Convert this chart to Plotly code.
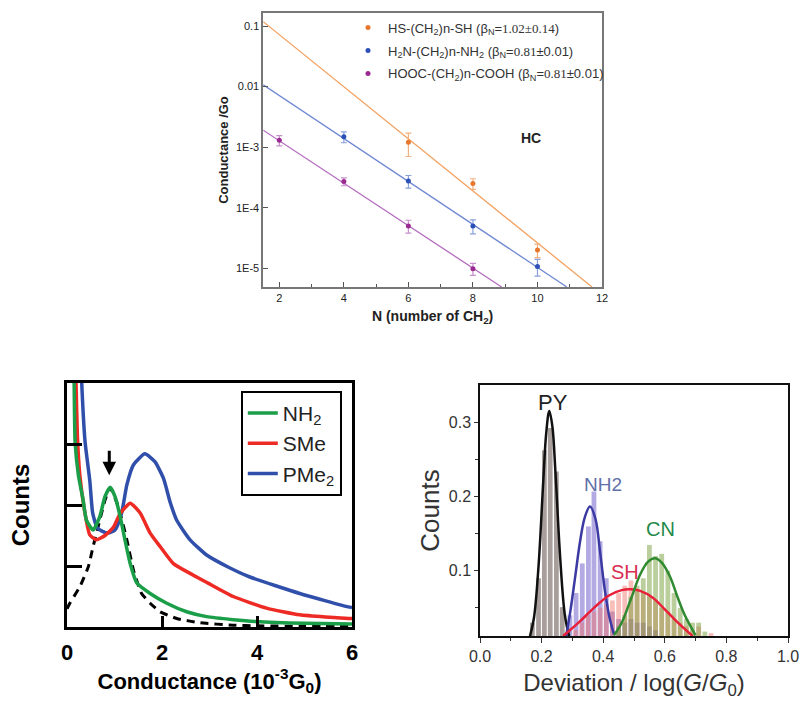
import plotly.graph_objects as go

# ---------------- top panel: conductance vs N ----------------
N_hs = [6, 8, 10]
G_hs = [1.2e-3, 2.5e-4, 2.0e-5]
E_hs = [5e-4, 5e-5, 5e-6]
N_hn = [4, 6, 8, 10]
G_hn = [1.48e-3, 2.75e-4, 5.0e-5, 1.07e-5]
E_hn = [3e-4, 6.5e-5, 1.3e-5, 3.3e-6]
N_hooc = [2, 4, 6, 8]
G_hooc = [1.3e-3, 2.7e-4, 5.0e-5, 9.8e-6]
E_hooc = [2.5e-4, 4e-5, 1.2e-5, 2.2e-6]
fit_hs_x = [1.5, 11.69]
fit_hs_y = [0.118, 4.9e-6]
fit_hn_x = [1.5, 10.91]
fit_hn_y = [0.0107, 4.9e-6]
fit_hooc_x = [1.5, 8.89]
fit_hooc_y = [0.0019, 4.9e-6]
top_ytick_vals = [1e-5, 1e-4, 1e-3, 1e-2, 1e-1]
top_ytick_text = ["1E-5", "1E-4", "1E-3", "0.01", "0.1"]
top_xtick_vals = [2, 4, 6, 8, 10, 12]

# ---------------- bottom-left panel: conductance histograms ----------------
nh2_x = [0.13, 0.15, 0.17, 0.24, 0.34, 0.41, 0.55, 0.69, 0.80, 0.91, 1.01, 1.12, 1.22, 1.33,
         1.47, 1.75, 2.1, 2.52, 2.94, 3.5, 3.96, 5.0, 6.0]
nh2_y = [4.5, 4.0, 3.04, 2.49, 2.08, 1.75, 1.59, 1.81, 2.14, 2.29, 2.14, 1.81, 1.43, 1.04,
         0.72, 0.55, 0.39, 0.25, 0.17, 0.12, 0.09, 0.06, 0.05]
sme_x = [0.17, 0.19, 0.22, 0.27, 0.38, 0.48, 0.62, 0.80, 0.98, 1.12, 1.33, 1.54, 1.75, 1.96,
         2.24, 2.66, 2.97, 3.5, 4.2, 4.9, 5.92, 6.0]
sme_y = [4.5, 4.0, 3.1, 2.49, 1.86, 1.51, 1.43, 1.5, 1.64, 1.86, 2.03, 1.87, 1.54, 1.32,
         1.04, 0.85, 0.72, 0.5, 0.31, 0.2, 0.14, 0.14]
pme_x = [0.29, 0.31, 0.38, 0.48, 0.54, 0.64, 0.84, 1.01, 1.15, 1.26, 1.4, 1.64, 1.85, 2.03,
         2.17, 2.31, 2.59, 2.94, 3.4, 3.85, 4.9, 5.92, 6.0]
pme_y = [4.5, 4.0, 3.04, 2.4, 1.87, 1.62, 1.54, 1.59, 1.87, 2.33, 2.66, 2.84, 2.71, 2.44,
         2.05, 1.75, 1.43, 1.18, 0.98, 0.82, 0.55, 0.33, 0.32]
dash_x = [0.0, 0.06, 0.27, 0.45, 0.55, 0.69, 0.80, 0.91, 1.08, 1.26, 1.4, 1.57, 1.75, 1.96,
          2.31, 2.8, 3.5, 4.0, 5.0, 6.0]
dash_y = [0.3, 0.39, 0.66, 0.99, 1.32, 1.75, 2.08, 2.28, 1.97, 1.43, 0.93, 0.55, 0.39, 0.25,
          0.14, 0.07, 0.03, 0.02, 0.01, 0.01]
bl_xtick_vals = [0, 2, 4, 6]

# ---------------- bottom-right panel: deviation histograms ----------------
py_bx = [0.17, 0.19, 0.209, 0.228, 0.248, 0.267, 0.286]
py_by = [0.03, 0.09, 0.263, 0.293, 0.234, 0.051, 0.02]
nh_bx = [0.292, 0.312, 0.332, 0.352, 0.370, 0.390, 0.410, 0.430, 0.450, 0.470, 0.490, 0.510,
         0.530, 0.550, 0.570]
nh_by = [0.04, 0.07, 0.11, 0.16, 0.207, 0.14, 0.09, 0.045, 0.035, 0.03, 0.035, 0.03,
         0.03, 0.025, 0.02]
sh_bx = [0.31, 0.33, 0.35, 0.37, 0.39, 0.41, 0.43, 0.45, 0.47, 0.49, 0.51, 0.53, 0.55, 0.57,
         0.59, 0.61, 0.63, 0.65, 0.67, 0.69, 0.71, 0.75]
sh_by = [0.02, 0.03, 0.04, 0.045, 0.05, 0.055, 0.06, 0.07, 0.08, 0.087, 0.075, 0.07, 0.065,
         0.06, 0.05, 0.045, 0.035, 0.03, 0.025, 0.02, 0.025, 0.016]
cn_bx = [0.45, 0.47, 0.49, 0.51, 0.53, 0.55, 0.57, 0.59, 0.61, 0.63, 0.65, 0.67, 0.69, 0.71, 0.73]
cn_by = [0.025, 0.04, 0.065, 0.08, 0.09, 0.135, 0.12, 0.123, 0.1, 0.07, 0.05, 0.035, 0.03,
         0.03, 0.018]
py_fx = [0.16, 0.175, 0.19, 0.205, 0.215, 0.225, 0.235, 0.245, 0.26, 0.275, 0.29]
py_fy = [0.008, 0.036, 0.106, 0.218, 0.286, 0.316, 0.295, 0.233, 0.12, 0.042, 0.01]
nh_fx = [0.28, 0.295, 0.31, 0.325, 0.34, 0.357, 0.375, 0.39, 0.405, 0.42, 0.435]
nh_fy = [0.012, 0.05, 0.095, 0.14, 0.172, 0.187, 0.17, 0.125, 0.075, 0.038, 0.014]
sh_fx = [0.27, 0.32, 0.37, 0.42, 0.46, 0.49, 0.52, 0.56, 0.60, 0.64, 0.69]
sh_fy = [0.012, 0.03, 0.05, 0.067, 0.074, 0.075, 0.073, 0.064, 0.048, 0.031, 0.012]
cn_fx = [0.435, 0.46, 0.49, 0.52, 0.545, 0.568, 0.59, 0.617, 0.64, 0.665, 0.70]
cn_fy = [0.013, 0.03, 0.062, 0.095, 0.112, 0.117, 0.111, 0.092, 0.066, 0.04, 0.013]
br_xtick_vals = [0.0, 0.2, 0.4, 0.6, 0.8, 1.0]
br_xtick_text = ["0.0", "0.2", "0.4", "0.6", "0.8", "1.0"]

SANS = "Arial, Liberation Sans, sans-serif"
SERIF = "Liberation Serif"

fig = go.Figure()

# ---- top panel traces
fig.add_trace(go.Scatter(x=fit_hs_x, y=fit_hs_y, mode="lines", line=dict(color="#f2a262", width=1.3),
                         showlegend=False, xaxis="x", yaxis="y"))
fig.add_trace(go.Scatter(x=fit_hn_x, y=fit_hn_y, mode="lines", line=dict(color="#6f88d2", width=1.3),
                         showlegend=False, xaxis="x", yaxis="y"))
fig.add_trace(go.Scatter(x=fit_hooc_x, y=fit_hooc_y, mode="lines", line=dict(color="#b46cbf", width=1.3),
                         showlegend=False, xaxis="x", yaxis="y"))

def lab(a, b, c):
    return (a + " (β<sub>N</sub>=<span style='font-family:" + SERIF + "'>" + b + "</span>" + c + ")")

fig.add_trace(go.Scatter(x=N_hs, y=G_hs, mode="markers", marker=dict(color="#e8772e", size=5),
                         error_y=dict(type="data", array=E_hs, color="#f4b07c", thickness=1.2, width=3),
                         name=lab("HS-(CH<sub>2</sub>)n-SH", "1.02±0.14", ""), legend="legend",
                         legendgroup="a", xaxis="x", yaxis="y"))
fig.add_trace(go.Scatter(x=N_hn, y=G_hn, mode="markers", marker=dict(color="#2c50b8", size=5),
                         error_y=dict(type="data", array=E_hn, color="#8aa0dc", thickness=1.2, width=3),
                         name=lab("H<sub>2</sub>N-(CH<sub>2</sub>)n-NH<sub>2</sub>", "0.81", "±0.01"),
                         legend="legend", legendgroup="b", xaxis="x", yaxis="y"))
fig.add_trace(go.Scatter(x=N_hooc, y=G_hooc, mode="markers", marker=dict(color="#9a2a92", size=5),
                         error_y=dict(type="data", array=E_hooc, color="#c590cc", thickness=1.2, width=3),
                         name=lab("HOOC-(CH<sub>2</sub>)n-COOH", "0.81", "±0.01"),
                         legend="legend", legendgroup="c", xaxis="x", yaxis="y"))

# ---- bottom-left traces
fig.add_trace(go.Scatter(x=dash_x, y=dash_y, mode="lines", line=dict(color="black", width=3, dash="8px,6px",
                         shape="spline", smoothing=0.5), showlegend=False, xaxis="x2", yaxis="y2"))
fig.add_trace(go.Scatter(x=pme_x, y=pme_y, mode="lines", name="PMe<sub>2</sub>",
                         line=dict(color="#2f4faa", width=3.5, shape="spline", smoothing=0.5),
                         legend="legend2", xaxis="x2", yaxis="y2"))
fig.add_trace(go.Scatter(x=sme_x, y=sme_y, mode="lines", name="SMe",
                         line=dict(color="#ee2a24", width=3.5, shape="spline", smoothing=0.5),
                         legend="legend2", xaxis="x2", yaxis="y2"))
fig.add_trace(go.Scatter(x=nh2_x, y=nh2_y, mode="lines", name="NH<sub>2</sub>",
                         line=dict(color="#1b9e48", width=3.5, shape="spline", smoothing=0.5),
                         legend="legend2", xaxis="x2", yaxis="y2"))

# ---- bottom-right traces
for bx, by, col in [(py_bx, py_by, "rgba(115,100,95,0.62)"),
                    (nh_bx, nh_by, "rgba(105,85,200,0.5)"),
                    (sh_bx, sh_by, "rgba(240,110,100,0.45)"),
                    (cn_bx, cn_by, "rgba(120,160,60,0.5)")]:
    fig.add_trace(go.Bar(x=bx, y=by, width=0.0155, marker=dict(color=col, line=dict(width=0)),
                         showlegend=False, xaxis="x3", yaxis="y3"))
for fx, fy, col in [(py_fx, py_fy, "#111111"), (nh_fx, nh_fy, "#3a3aa2"),
                    (sh_fx, sh_fy, "#e8203a"), (cn_fx, cn_fy, "#2f8a30")]:
    fig.add_trace(go.Scatter(x=fx, y=fy, mode="lines", line=dict(color=col, width=2.5, shape="spline"),
                             showlegend=False, xaxis="x3", yaxis="y3"))

fig.update_layout(
    width=800, height=702, margin=dict(l=0, r=0, t=0, b=0, autoexpand=False),
    paper_bgcolor="white", plot_bgcolor="white", barmode="overlay",
    font=dict(family=SANS, color="#222"),
    showlegend=True,
    xaxis=dict(domain=[0.329, 0.7525], anchor="y", range=[1.5, 12], tickvals=top_xtick_vals,
               automargin=False,
               ticks="inside", ticklen=5, tickcolor="#555", showline=True, mirror=True,
               linecolor="#777", linewidth=1.5, showgrid=False, zeroline=False,
               tickfont=dict(size=11, color="#222"),
               minor=dict(ticks="inside", ticklen=3, dtick=1, tickcolor="#555", showgrid=False),
               title=dict(text="<b>N (number of CH<sub>2</sub>)</b>", font=dict(size=14, color="#222"),
                          standoff=8)),
    yaxis=dict(domain=[0.5912, 0.9815], anchor="x", type="log", range=[-5.31, -0.785],
               automargin=False,
               tickvals=top_ytick_vals, ticktext=top_ytick_text, ticks="inside", ticklen=5,
               tickcolor="#555", showline=True, mirror=True, linecolor="#777", linewidth=1.5,
               showgrid=False, zeroline=False, tickfont=dict(size=11, color="#222"),
               title=dict(text="<b>Conductance /Go</b>", font=dict(size=13, color="#222"), standoff=4)),
    xaxis2=dict(domain=[0.08375, 0.44], anchor="y2", range=[0, 6], tickvals=bl_xtick_vals,
                automargin=False,
                ticks="inside", ticklen=11, tickwidth=3, tickcolor="black", showline=True, mirror=True,
                linecolor="black", linewidth=3, showgrid=False, zeroline=False,
                tickfont=dict(size=22, color="black", weight="bold"), ticklabelstandoff=4,
                title=dict(text="Conductance (10<sup>-3</sup>G<sub>0</sub>)",
                           font=dict(size=22, color="black", weight="bold"), standoff=0)),
    yaxis2=dict(domain=[0.1068, 0.4544], anchor="x2", range=[0, 4], tickvals=[1, 2, 3],
                automargin=False,
                showticklabels=False, ticks="inside", ticklen=15, tickwidth=3, tickcolor="black",
                showline=True, mirror=True, linecolor="black", linewidth=3, showgrid=False,
                zeroline=False,
                title=dict(text="Counts", font=dict(size=24, color="black", weight="bold"), standoff=28)),
    xaxis3=dict(domain=[0.6, 0.985], anchor="y3", range=[0, 1], tickvals=br_xtick_vals,
                automargin=False,
                ticktext=br_xtick_text, ticks="outside", ticklen=5, tickcolor="#333", showline=True,
                mirror=True, linecolor="#111", linewidth=1.5, showgrid=False, zeroline=False,
                tickfont=dict(size=16, color="#333"),
                minor=dict(ticks="outside", ticklen=3, dtick=0.1, tickcolor="#333", showgrid=False),
                title=dict(text="Deviation / log(<i>G</i>/<i>G</i><sub>0</sub>)",
                           font=dict(size=24, color="#333"), standoff=10)),
    yaxis3=dict(domain=[0.094, 0.4516], anchor="x3", range=[0.012, 0.351], tickvals=[0.1, 0.2, 0.3],
                automargin=False,
                ticktext=["0.1", "0.2", "0.3"], ticks="outside", ticklen=4, tickcolor="#333",
                showline=True, mirror=True, linecolor="#111", linewidth=1.5, showgrid=False,
                zeroline=False, tickfont=dict(size=16, color="#333"),
                minor=dict(ticks="outside", ticklen=3, tickvals=[0.05, 0.15, 0.25], tickcolor="#333",
                           showgrid=False),
                title=dict(text="Counts", font=dict(size=26, color="#333"), standoff=2)),
    legend=dict(x=0.435, y=0.982, xanchor="left", yanchor="top", bgcolor="rgba(0,0,0,0)",
                font=dict(size=13, color="#333"), tracegroupgap=3, itemwidth=30),
    legend2=dict(x=0.301, y=0.4434, xanchor="left", yanchor="top", bgcolor="white",
                 bordercolor="black", borderwidth=2, font=dict(size=21, color="#222"),
                 itemwidth=30, traceorder="reversed"),
    annotations=[
        dict(text="<b>HC</b>", x=9.8, y=-2.85, xref="x", yref="y", showarrow=False,
             font=dict(size=14, color="#222")),
        dict(text="", x=0.89, y=2.49, xref="x2", yref="y2", showarrow=True, ax=0, ay=-26,
             arrowhead=2, arrowsize=0.9, arrowwidth=3, arrowcolor="black"),
        dict(text="PY", x=0.236, y=0.328, xref="x3", yref="y3", showarrow=False,
             font=dict(size=22, color="#222")),
        dict(text="NH2", x=0.40, y=0.216, xref="x3", yref="y3", showarrow=False,
             font=dict(size=19, color="#6070a8")),
        dict(text="CN", x=0.585, y=0.157, xref="x3", yref="y3", showarrow=False,
             font=dict(size=20, color="#1f8a4a")),
        dict(text="SH", x=0.471, y=0.099, xref="x3", yref="y3", showarrow=False,
             font=dict(size=20, color="#d83050")),
    ],
)

fig.write_html("out.html")
